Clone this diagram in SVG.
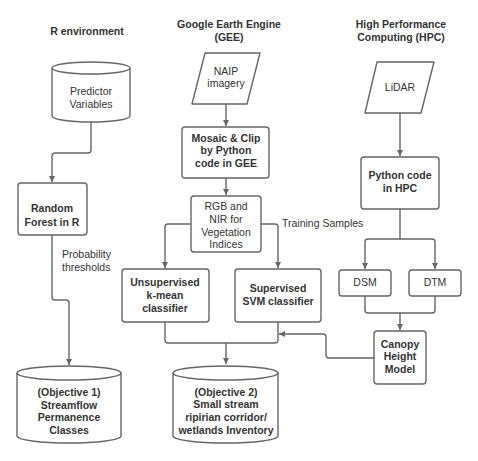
<svg xmlns="http://www.w3.org/2000/svg" width="478" height="461" viewBox="0 0 478 461">
<defs>
<marker id="ah" markerWidth="8" markerHeight="8" refX="6" refY="4" orient="auto" markerUnits="userSpaceOnUse">
<path d="M0,1 L6,4 L0,7 Z" fill="#666"/>
</marker>
<style>
.s{fill:#fff;stroke:#666;stroke-width:1.4}
.c{fill:none;stroke:#666;stroke-width:1.4;stroke-linejoin:round}
.a{marker-end:url(#ah)}
text{font-family:"Liberation Sans",Arial,sans-serif;font-size:10.5px;fill:#333;text-anchor:middle;dominant-baseline:central}
.b{font-weight:bold}
.l{text-anchor:start}
</style>
</defs>
<rect width="478" height="461" fill="#fff"/>
<g id="titles">
<text class="b" x="87" y="31">R environment</text>
<text class="b" x="229" y="24">Google Earth Engine</text>
<text class="b" x="229" y="37">(GEE)</text>
<text class="b" x="401" y="24">High Performance</text>
<text class="b" x="401" y="37">Computing (HPC)</text>
</g>
<g id="connectors">
<path class="c a" d="M91,122 V150 Q91,153 88,153 H55 Q52,153 52,156 V182"/>
<path class="c a" d="M52,235 V297 Q52,300 55,300 H66 Q69,300 69,303 V365"/>
<path class="c a" d="M226,104 V126"/>
<path class="c a" d="M226,178 V195"/>
<path class="c a" d="M191,224 H168 Q165,224 165,227 V268"/>
<path class="c a" d="M261,224 H275 Q278,224 278,227 V268"/>
<path class="c" d="M165,322 V340 Q165,343 168,343 H275 Q278,343 278,340 V322"/>
<path class="c a" d="M226,343 V364"/>
<path class="c a" d="M374,358 H329 Q326,358 326,355 V337 Q326,334 323,334 H279"/>
<path class="c a" d="M400,113 V156"/>
<path class="c" d="M400,209 V239"/>
<path class="c a" d="M400,239 H368 Q365,239 365,242 V269"/>
<path class="c a" d="M400,239 H432 Q435,239 435,242 V269"/>
<path class="c" d="M365,296 V310 Q365,313 368,313 H432 Q435,313 435,310 V296"/>
<path class="c a" d="M400,313 V330"/>
</g>
<g id="predictor">
<path class="s" d="M52,68 V116 A39,6 0 0 0 130,116 V68 A39,6 0 0 0 52,68 Z"/>
<path class="c" d="M52,68 A39,6 0 0 0 130,68"/>
<text x="91" y="91">Predictor</text>
<text x="91" y="104">Variables</text>
</g>
<g id="randomforest">
<rect class="s" x="18" y="183" width="69" height="52" rx="3"/>
<text class="b" x="52" y="208">Random</text>
<text class="b" x="52" y="222">Forest in R</text>
</g>
<g id="prob-label">
<text class="l" x="62" y="254">Probability</text>
<text class="l" x="62" y="267">thresholds</text>
</g>
<g id="objective1">
<path class="s" d="M17,373 V436 A52,7 0 0 0 121,436 V373 A52,7 0 0 0 17,373 Z"/>
<path class="c" d="M17,373 A52,7 0 0 0 121,373"/>
<text class="b" x="69" y="392">(Objective 1)</text>
<text class="b" x="69" y="405">Streamflow</text>
<text class="b" x="69" y="417">Permanence</text>
<text class="b" x="69" y="430">Classes</text>
</g>
<g id="naip">
<path class="s" d="M205,53 H260 L247,104 H192 Z" stroke-linejoin="round"/>
<text x="226" y="71">NAIP</text>
<text x="226" y="83">imagery</text>
</g>
<g id="mosaic">
<rect class="s" x="182" y="127" width="87" height="51" rx="3"/>
<text class="b" x="226" y="138">Mosaic &amp; Clip</text>
<text class="b" x="226" y="150">by Python</text>
<text class="b" x="226" y="163">code in GEE</text>
</g>
<g id="rgb">
<rect class="s" x="191" y="196" width="70" height="56" rx="3"/>
<text x="226" y="206">RGB and</text>
<text x="226" y="219">NIR for</text>
<text x="226" y="232">Vegetation</text>
<text x="226" y="244">Indices</text>
</g>
<g id="training-label">
<text class="l" x="282" y="223">Training Samples</text>
</g>
<g id="unsupervised">
<rect class="s" x="122" y="269" width="87" height="53" rx="3"/>
<text class="b" x="165" y="282">Unsupervised</text>
<text class="b" x="165" y="295">k-mean</text>
<text class="b" x="165" y="308">classifier</text>
</g>
<g id="supervised">
<rect class="s" x="235" y="269" width="86" height="53" rx="3"/>
<text class="b" x="278" y="288">Supervised</text>
<text class="b" x="278" y="301">SVM classifier</text>
</g>
<g id="objective2">
<path class="s" d="M173,373 V436 A52.5,7 0 0 0 278,436 V373 A52.5,7 0 0 0 173,373 Z"/>
<path class="c" d="M173,373 A52.5,7 0 0 0 278,373"/>
<text class="b" x="226" y="392">(Objective 2)</text>
<text class="b" x="226" y="404">Small stream</text>
<text class="b" x="226" y="417">ripirian corridor/</text>
<text class="b" x="226" y="430">wetlands Inventory</text>
</g>
<g id="lidar">
<path class="s" d="M377,62 H434 L421,113 H365 Z" stroke-linejoin="round"/>
<text x="400" y="87">LiDAR</text>
</g>
<g id="python-hpc">
<rect class="s" x="361" y="157" width="78" height="52" rx="3"/>
<text class="b" x="400" y="175">Python code</text>
<text class="b" x="400" y="188">in HPC</text>
</g>
<g id="dsm">
<rect class="s" x="339" y="270" width="52" height="26" rx="3"/>
<text x="365" y="282">DSM</text>
</g>
<g id="dtm">
<rect class="s" x="409" y="270" width="52" height="26" rx="3"/>
<text x="435" y="282">DTM</text>
</g>
<g id="canopy">
<rect class="s" x="374" y="331" width="52" height="53" rx="3"/>
<text class="b" x="400" y="344">Canopy</text>
<text class="b" x="400" y="356">Height</text>
<text class="b" x="400" y="369">Model</text>
</g>
</svg>
